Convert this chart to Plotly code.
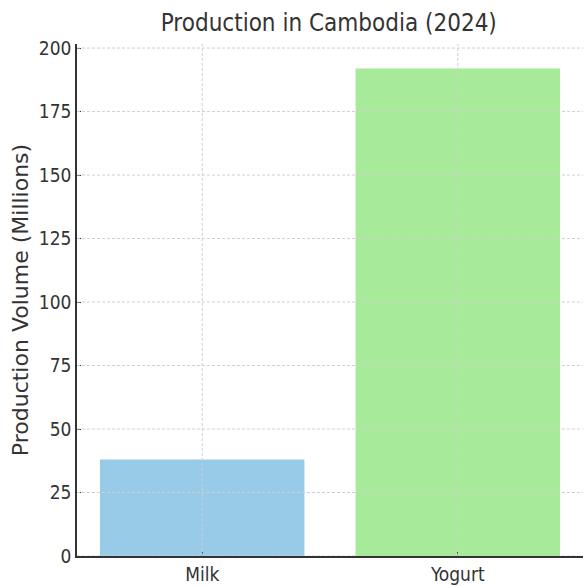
import plotly.graph_objects as go

# Data
categories = ["Milk", "Yogurt"]
volumes = [38, 192]
bar_colors = ["#97cbe8", "#a6ea9a"]
y_ticks = [0, 25, 50, 75, 100, 125, 150, 175, 200]

narrow = "DejaVu Sans Condensed, Liberation Sans Narrow, DejaVu Sans, sans-serif"

fig = go.Figure(
    go.Bar(
        x=categories,
        y=volumes,
        marker=dict(color=bar_colors, line=dict(width=0)),
        width=0.8,
    )
)

# Dashed grid drawn on top of the bars
grid = dict(color="#cfcfcf", width=1, dash="3px,2px")
shapes = []
for v in y_ticks:
    shapes.append(dict(type="line", xref="paper", yref="y", x0=0, x1=1, y0=v, y1=v,
                       line=grid, layer="above"))
for c in categories:
    shapes.append(dict(type="line", xref="x", yref="paper", x0=c, x1=c, y0=0, y1=1,
                       line=grid, layer="above"))

fig.update_layout(
    width=584,
    height=586,
    margin=dict(l=77, r=1, t=44, b=28),
    paper_bgcolor="white",
    plot_bgcolor="white",
    showlegend=False,
    shapes=shapes,
    title=dict(
        text="Production in Cambodia (2024)",
        x=0.563, xanchor="center",
        y=0.962, yanchor="middle",
        font=dict(family=narrow, size=24, color="#333333"),
    ),
    xaxis=dict(
        range=[-0.49, 1.49],
        showgrid=False,
        showline=True, linecolor="#333333", linewidth=1.5,
        ticks="inside", ticklen=4, tickcolor="#333333",
        tickfont=dict(family=narrow, size=19, color="#333333"),
        layer="above traces",
    ),
    yaxis=dict(
        range=[0, 201.6],
        tickvals=y_ticks,
        showgrid=False, zeroline=False,
        showline=True, linecolor="#333333", linewidth=1.5,
        ticks="inside", ticklen=4, tickcolor="#333333",
        tickfont=dict(family=narrow, size=19, color="#333333"),
        title=dict(text="Production Volume (Millions)",
                   font=dict(family="DejaVu Sans, sans-serif", size=22, color="#333333"),
                   standoff=4),
        layer="above traces",
    ),
)

fig.write_html("out.html")
